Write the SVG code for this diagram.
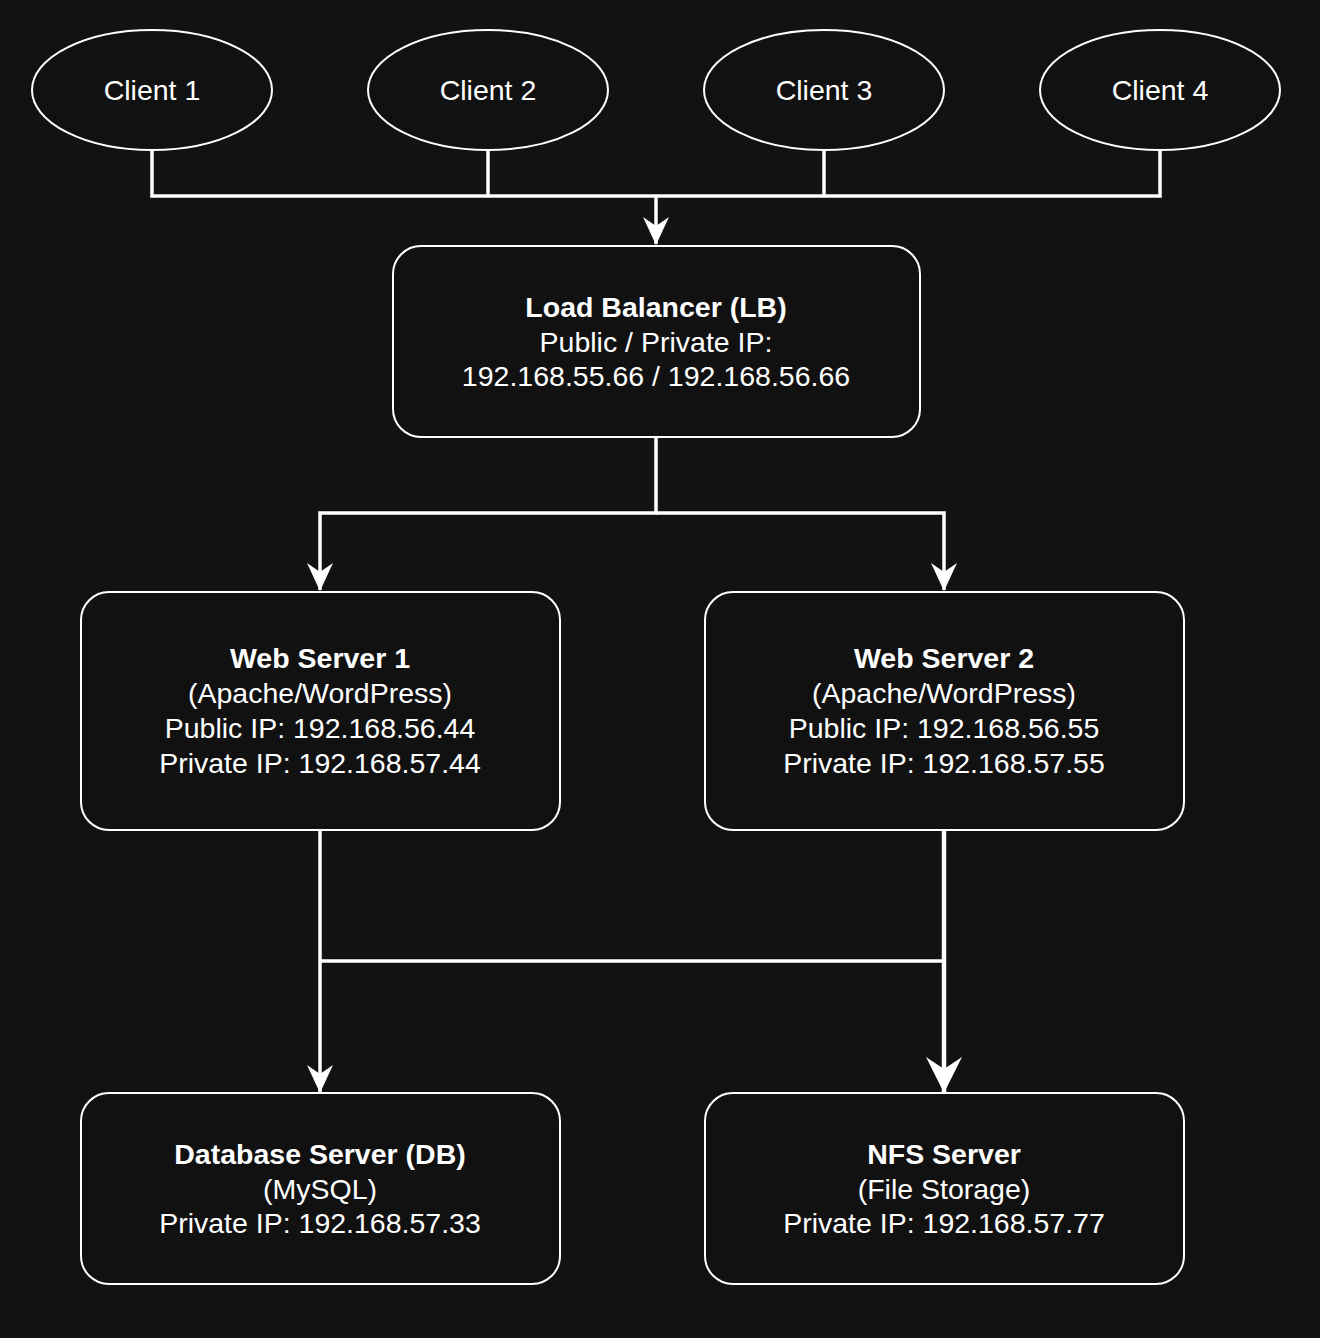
<svg xmlns="http://www.w3.org/2000/svg" width="1320" height="1338" viewBox="0 0 1320 1338">
<defs>
<style>
.node{fill:#111111;stroke:#ffffff;stroke-width:2}
.t{font-family:"Liberation Sans",Arial,Helvetica,sans-serif;font-size:28.5px;fill:#ffffff;text-anchor:middle}
.b{font-weight:bold}
.c{fill:none;stroke:#ffffff;stroke-width:3.5}
.c2{fill:none;stroke:#ffffff;stroke-width:4.5}
</style>
<marker id="arr" markerUnits="userSpaceOnUse" viewBox="0 0 28 26" refX="27" refY="13" markerWidth="28" markerHeight="26" orient="auto">
<path d="M0,0 L28,13 L0,26 L9,13 Z" fill="#ffffff"/>
</marker>
<marker id="arr2" markerUnits="userSpaceOnUse" viewBox="0 0 36 36" refX="35" refY="18" markerWidth="36" markerHeight="36" orient="auto">
<path d="M0,0 L36,18 L0,36 L12,18 Z" fill="#ffffff"/>
</marker>
</defs>
<rect x="0" y="0" width="1320" height="1338" fill="#121212"/>
<g id="connectors">
<path class="c" d="M152,150 V196 H1160 V150"/>
<path class="c" d="M488,150 V196"/>
<path class="c" d="M824,150 V196"/>
<path class="c" d="M656,196 V244" marker-end="url(#arr)"/>
<path class="c" d="M656,437 V513 H320 V590" marker-end="url(#arr)"/>
<path class="c" d="M656,513 H944 V590" marker-end="url(#arr)"/>
<path class="c" d="M320,830 V1092" marker-end="url(#arr)"/>
<path class="c" d="M320,961 H944"/>
<path class="c2" d="M944,830 V1092" marker-end="url(#arr2)"/>
</g>
<g id="client1">
<ellipse class="node" cx="152" cy="90" rx="120" ry="60"/>
<text class="t" x="152" y="100">Client 1</text>
</g>
<g id="client2">
<ellipse class="node" cx="488" cy="90" rx="120" ry="60"/>
<text class="t" x="488" y="100">Client 2</text>
</g>
<g id="client3">
<ellipse class="node" cx="824" cy="90" rx="120" ry="60"/>
<text class="t" x="824" y="100">Client 3</text>
</g>
<g id="client4">
<ellipse class="node" cx="1160" cy="90" rx="120" ry="60"/>
<text class="t" x="1160" y="100">Client 4</text>
</g>
<g id="lb">
<rect class="node" x="393" y="246" width="527" height="191" rx="28" ry="28"/>
<text class="t b" x="656" y="317">Load Balancer (LB)</text>
<text class="t" x="656" y="352">Public / Private IP:</text>
<text class="t" x="656" y="386">192.168.55.66 / 192.168.56.66</text>
</g>
<g id="web1">
<rect class="node" x="81" y="592" width="479" height="238" rx="28" ry="28"/>
<text class="t b" x="320" y="668">Web Server 1</text>
<text class="t" x="320" y="703">(Apache/WordPress)</text>
<text class="t" x="320" y="738">Public IP: 192.168.56.44</text>
<text class="t" x="320" y="773">Private IP: 192.168.57.44</text>
</g>
<g id="web2">
<rect class="node" x="705" y="592" width="479" height="238" rx="28" ry="28"/>
<text class="t b" x="944" y="668">Web Server 2</text>
<text class="t" x="944" y="703">(Apache/WordPress)</text>
<text class="t" x="944" y="738">Public IP: 192.168.56.55</text>
<text class="t" x="944" y="773">Private IP: 192.168.57.55</text>
</g>
<g id="db">
<rect class="node" x="81" y="1093" width="479" height="191" rx="28" ry="28"/>
<text class="t b" x="320" y="1164">Database Server (DB)</text>
<text class="t" x="320" y="1199">(MySQL)</text>
<text class="t" x="320" y="1233">Private IP: 192.168.57.33</text>
</g>
<g id="nfs">
<rect class="node" x="705" y="1093" width="479" height="191" rx="28" ry="28"/>
<text class="t b" x="944" y="1164">NFS Server</text>
<text class="t" x="944" y="1199">(File Storage)</text>
<text class="t" x="944" y="1233">Private IP: 192.168.57.77</text>
</g>
</svg>
